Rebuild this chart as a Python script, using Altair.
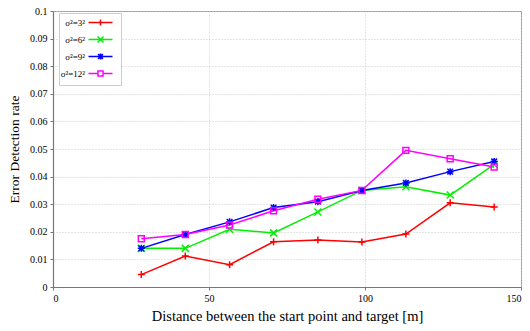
import altair as alt
import pandas as pd

distance = [28.3, 42.4, 56.6, 70.7, 84.9, 99.0, 113.1, 127.3, 141.4]
series_names = ["σ²=3²", "σ²=6²", "σ²=9²", "σ²=12²"]
rate_3 = [0.0045, 0.0112, 0.0081, 0.0164, 0.0170, 0.0163, 0.0192, 0.0305, 0.0290]
rate_6 = [0.0140, 0.0140, 0.0209, 0.0196, 0.0272, 0.0350, 0.0363, 0.0333, 0.0444]
rate_9 = [0.0140, 0.0190, 0.0236, 0.0288, 0.0309, 0.0350, 0.0377, 0.0418, 0.0455]
rate_12 = [0.0175, 0.0190, 0.0225, 0.0276, 0.0318, 0.0350, 0.0495, 0.0465, 0.0435]
colors = ["#ff0000", "#00f000", "#0000ff", "#ff00ff"]

rows = []
for name, vals in zip(series_names, [rate_3, rate_6, rate_9, rate_12]):
    for d, v in zip(distance, vals):
        rows.append({"distance": d, "rate": v, "series": name})
df = pd.DataFrame(rows)

marker_paths = [
    "M-1,0H1M0,-1V1",
    "M-1,-1L1,1M-1,1L1,-1",
    "M-1,0H1M0,-1V1M-0.8,-0.8L0.8,0.8M-0.8,0.8L0.8,-0.8",
    "M-0.85,-0.85H0.85V0.85H-0.85Z",
]
legend_paths = [
    "M-4,0H4M-1,0H1M0,-1V1",
    "M-4,0H4M-1,-1L1,1M-1,1L1,-1",
    "M-4,0H4M0,-1V1M-0.8,-0.8L0.8,0.8M-0.8,0.8L0.8,-0.8",
    "M-4,0H-0.85M0.85,0H4M-0.85,-0.85H0.85V0.85H-0.85Z",
]

font = "Liberation Serif"

x_enc = alt.X("distance:Q",
              scale=alt.Scale(domain=[0, 150], nice=False),
              axis=alt.Axis(values=[0, 50, 100, 150],
                            title="Distance between the start point and target [m]",
                            titleFontSize=14.5))
y_enc = alt.Y("rate:Q",
              scale=alt.Scale(domain=[0, 0.1], nice=False),
              axis=alt.Axis(values=[i / 100 for i in range(11)], format="~g",
                            title="Error Detection rate", titleFontSize=13.5))

lines = alt.Chart(df).mark_line(strokeWidth=1.5).encode(
    x=x_enc, y=y_enc,
    color=alt.Color("series:N", scale=alt.Scale(domain=series_names, range=colors), legend=None),
)

points = alt.Chart(df).mark_point(filled=False, strokeWidth=1.5, size=49, opacity=1).encode(
    x=x_enc, y=y_enc,
    color=alt.Color("series:N", scale=alt.Scale(domain=series_names, range=colors), legend=None),
    shape=alt.Shape("series:N", scale=alt.Scale(domain=series_names, range=marker_paths),
                    legend=None),
)

legend_def = alt.Legend(
    title=None, orient="none", legendX=6, legendY=2,
    symbolSize=36, symbolStrokeWidth=1.5,
    symbolOffset=32, labelOffset={"expr": "-20"}, labelAlign="right",
    labelFont=font, labelFontSize=9, labelColor="#000",
    rowPadding=4, padding=5,
    strokeColor="#cccccc", fillColor="white",
)

legend_layer = alt.Chart(df).transform_filter("false").mark_point(
    filled=False, strokeWidth=1.5, opacity=1
).encode(
    x=x_enc, y=y_enc,
    color=alt.Color("series:N", scale=alt.Scale(domain=series_names, range=colors),
                    legend=legend_def),
    shape=alt.Shape("series:N", scale=alt.Scale(domain=series_names, range=legend_paths),
                    legend=legend_def),
)

chart = alt.layer(lines, points, legend_layer).resolve_scale(
    shape="independent", color="independent"
).properties(
    width=468, height=276,
    autosize=alt.AutoSizeParams(type="none"),
    padding={"left": 53, "top": 11, "right": 9, "bottom": 44},
).configure_view(
    stroke="#999999", strokeWidth=1
).configure_axis(
    grid=True, gridColor="#c8c8c8", gridDash=[1, 2], gridWidth=1,
    domainColor="#777777", domainWidth=1.2,
    ticks=True, tickColor="#777777", tickSize=3,
    labelFont=font, labelFontSize=10, labelColor="#000",
    titleFont=font, titleFontWeight="normal", titleColor="#000",
).configure_axisY(
    titlePadding=8, labelPadding=3,
).configure_axisX(
    titlePadding=6, labelPadding=3,
)

chart.save("out.html", embed_options={"renderer": "svg", "actions": False})
